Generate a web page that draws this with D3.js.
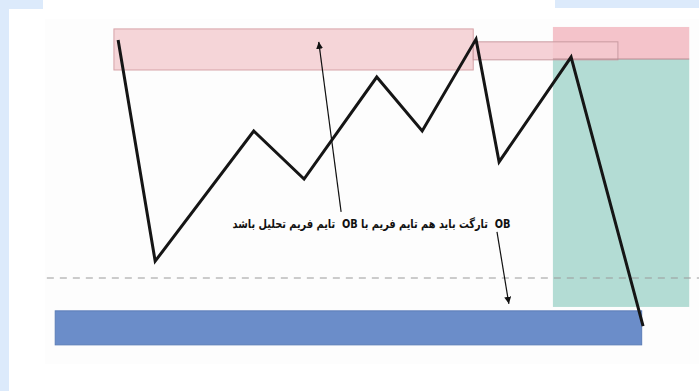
<!DOCTYPE html>
<html>
<head>
<meta charset="utf-8">
<script src="https://cdn.jsdelivr.net/npm/d3@7"></script>
<style>
  body { margin: 0; background: #fff; }
  svg { display: block; }
</style>
</head>
<body>
<div id="main"></div>
<script>

// price path (time, price)
var pathTime  = [16.9, 22.2, 36.3, 43.5, 53.9, 60.4, 68.1, 71.4, 81.7, 92.0]
var pathPrice = [89.8, 33.2, 66.5, 54.2, 80.3, 66.5, 90.0, 58.6, 85.4, 16.6]

// zones: [t0, t1, p0, p1]
var zoneNames = ["obHigh", "obSmall", "stop", "target", "obLow"]
var zoneT0 = [16.3, 67.7, 79.1, 79.1, 7.9]
var zoneT1 = [67.7, 88.4, 98.6, 98.6, 91.8]
var zoneP0 = [82.1, 84.7, 84.9, 21.5, 11.8]
var zoneP1 = [92.6, 89.3, 93.1, 84.9, 20.5]

// dashed level
var levelPrice = 28.9
var levelT = [6.7, 100]

// arrows: from -> to
var arrowFromT = [48.8, 71.1]
var arrowFromP = [45.8, 40.7]
var arrowToT   = [45.6, 72.8]
var arrowToP   = [89.3, 22.3]

var label = "OB  تارگت باید هم تایم فریم با OB  تایم فریم تحلیل باشد"
var labelT = 53.15, labelP = 41.7

var w = 699, h = 391

var x = d3.scaleLinear().domain([0, 100]).range([0, w])
var y = d3.scaleLinear().domain([0, 100]).range([h, 0])

var svg = d3.select("#main")
	.append("svg")
	.attr("width", w)
	.attr("height", h)

// frame bits (light blue page behind)
svg.append("rect").attr("x", 0).attr("y", 0).attr("width", 9).attr("height", h).attr("fill", "#dceafb")
svg.append("rect").attr("x", 0).attr("y", 0).attr("width", 43).attr("height", 9).attr("fill", "#dceafb")
svg.append("rect").attr("x", 555).attr("y", 0).attr("width", 144).attr("height", 8).attr("fill", "#dceafb")
svg.append("rect").attr("x", 45).attr("y", 19).attr("width", 654).attr("height", 345).attr("fill", "#fdfdfd")

var zoneFill   = { obHigh: "#f5d5d8", obSmall: "#f3c9cf", stop: "#f0a9b4", target: "#b3dcd4", obLow: "#6b8dc9" }
var zoneStroke = { obHigh: "#d6a3a8", obSmall: "#c99ba1", stop: "none", target: "none", obLow: "#5b7db8" }
var zoneOpacity = { obHigh: 1, obSmall: 0.85, stop: 0.7, target: 1, obLow: 1 }

var zones = zoneNames.map(function(n, i) {
	return { name: n, t0: zoneT0[i], t1: zoneT1[i], p0: zoneP0[i], p1: zoneP1[i] }
})
var order = ["target", "obLow", "obHigh", "stop", "obSmall"]
zones.sort(function(a, b) { return order.indexOf(a.name) - order.indexOf(b.name) })

svg.selectAll(".zone")
	.data(zones)
	.enter()
	.append("rect")
	.attr("class", "zone")
	.attr("x", function(d) { return x(d.t0) })
	.attr("y", function(d) { return y(d.p1) })
	.attr("width", function(d) { return x(d.t1) - x(d.t0) })
	.attr("height", function(d) { return y(d.p0) - y(d.p1) })
	.attr("fill", function(d) { return zoneFill[d.name] })
	.attr("fill-opacity", function(d) { return zoneOpacity[d.name] })
	.attr("stroke", function(d) { return zoneStroke[d.name] })
	.attr("stroke-width", 1)

// line between stop and target
svg.append("line")
	.attr("x1", x(zoneT0[2])).attr("x2", x(zoneT1[2]))
	.attr("y1", y(zoneP0[2])).attr("y2", y(zoneP0[2]))
	.attr("stroke", "#b88a90").attr("stroke-width", 1)

svg.append("line")
	.attr("x1", x(levelT[0])).attr("x2", x(levelT[1]))
	.attr("y1", y(levelPrice)).attr("y2", y(levelPrice))
	.attr("stroke", "#9a9a9a")
	.attr("stroke-width", 1)
	.attr("stroke-dasharray", "7,6")

var pts = pathTime.map(function(t, i) { return [t, pathPrice[i]] })
var line = d3.line()
	.x(function(d) { return x(d[0]) })
	.y(function(d) { return y(d[1]) })

svg.append("path")
	.datum(pts)
	.attr("d", line)
	.attr("fill", "none")
	.attr("stroke", "#151515")
	.attr("stroke-width", 3)
	.attr("stroke-linejoin", "miter")

svg.append("defs").append("marker")
	.attr("id", "head")
	.attr("viewBox", "0 0 10 10")
	.attr("refX", 10).attr("refY", 5)
	.attr("markerWidth", 7).attr("markerHeight", 7)
	.attr("markerUnits", "userSpaceOnUse")
	.attr("orient", "auto")
	.append("path")
	.attr("d", "M0,0L10,5L0,10Z")
	.attr("fill", "#111")

svg.selectAll(".arrow")
	.data(arrowFromT)
	.enter()
	.append("line")
	.attr("class", "arrow")
	.attr("x1", function(d, i) { return x(arrowFromT[i]) })
	.attr("y1", function(d, i) { return y(arrowFromP[i]) })
	.attr("x2", function(d, i) { return x(arrowToT[i]) })
	.attr("y2", function(d, i) { return y(arrowToP[i]) })
	.attr("stroke", "#111")
	.attr("stroke-width", 1.2)
	.attr("marker-end", "url(#head)")

svg.append("text")
	.attr("x", x(labelT))
	.attr("y", y(labelP))
	.attr("text-anchor", "middle")
	.attr("direction", "rtl")
	.attr("font-family", "DejaVu Sans, sans-serif")
	.attr("font-weight", "bold")
	.attr("font-size", 12)
	.attr("textLength", 278)
	.attr("lengthAdjust", "spacingAndGlyphs")
	.attr("fill", "#111")
	.style("white-space", "pre")
	.text(label)

</script>
</body>
</html>
